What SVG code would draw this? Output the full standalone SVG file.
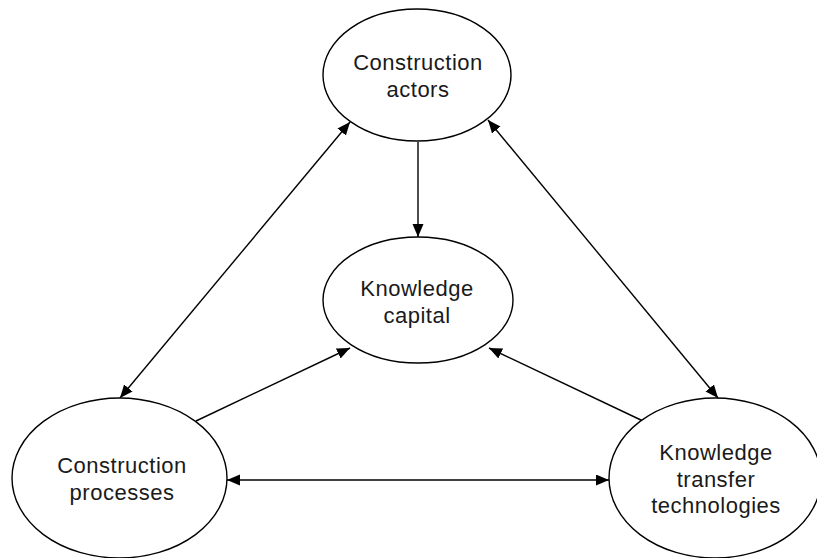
<svg xmlns="http://www.w3.org/2000/svg" width="817" height="558" viewBox="0 0 817 558">
  <style>
    .node ellipse { fill: #ffffff; stroke: #000000; stroke-width: 1.4; }
    .node text { font-family: "Liberation Sans", Arial, sans-serif; font-size: 22px; letter-spacing: 0.5px; fill: #1a1a1a; text-anchor: middle; }
    .edges line { stroke: #000000; stroke-width: 1.4; fill: none; }
    .one { marker-end: url(#arrow); }
    .two { marker-start: url(#arrow); marker-end: url(#arrow); }
  </style>
  <defs>
    <marker id="arrow" markerUnits="userSpaceOnUse" markerWidth="14" markerHeight="12" refX="13" refY="5.5" orient="auto-start-reverse" viewBox="0 0 14 12">
      <path d="M0,0 L13,5.5 L0,11 z" fill="#000000"/>
    </marker>
  </defs>
  <rect width="817" height="558" fill="#ffffff"/>

  <g class="edges">
    <line class="one" x1="418" y1="142" x2="418" y2="237"/>
    <line class="two" x1="350" y1="122" x2="120" y2="398"/>
    <line class="two" x1="488" y1="120" x2="718" y2="398"/>
    <line class="one" x1="196" y1="421" x2="350" y2="348"/>
    <line class="one" x1="643" y1="421" x2="489" y2="348"/>
    <line class="two" x1="227" y1="480" x2="609" y2="480"/>
  </g>

  <g id="construction-actors" class="node">
    <ellipse cx="417" cy="75" rx="94" ry="66"/>
    <text x="418" y="70">Construction</text>
    <text x="418" y="97">actors</text>
  </g>

  <g id="knowledge-capital" class="node">
    <ellipse cx="418" cy="300" rx="95" ry="63"/>
    <text x="417" y="296">Knowledge</text>
    <text x="417" y="323">capital</text>
  </g>

  <g id="construction-processes" class="node">
    <ellipse cx="119.5" cy="478" rx="107.5" ry="80"/>
    <text x="122" y="473">Construction</text>
    <text x="122" y="500">processes</text>
  </g>

  <g id="knowledge-transfer-technologies" class="node">
    <ellipse cx="715" cy="478" rx="106" ry="80"/>
    <text x="716" y="460">Knowledge</text>
    <text x="716" y="487">transfer</text>
    <text x="716" y="513">technologies</text>
  </g>
</svg>
